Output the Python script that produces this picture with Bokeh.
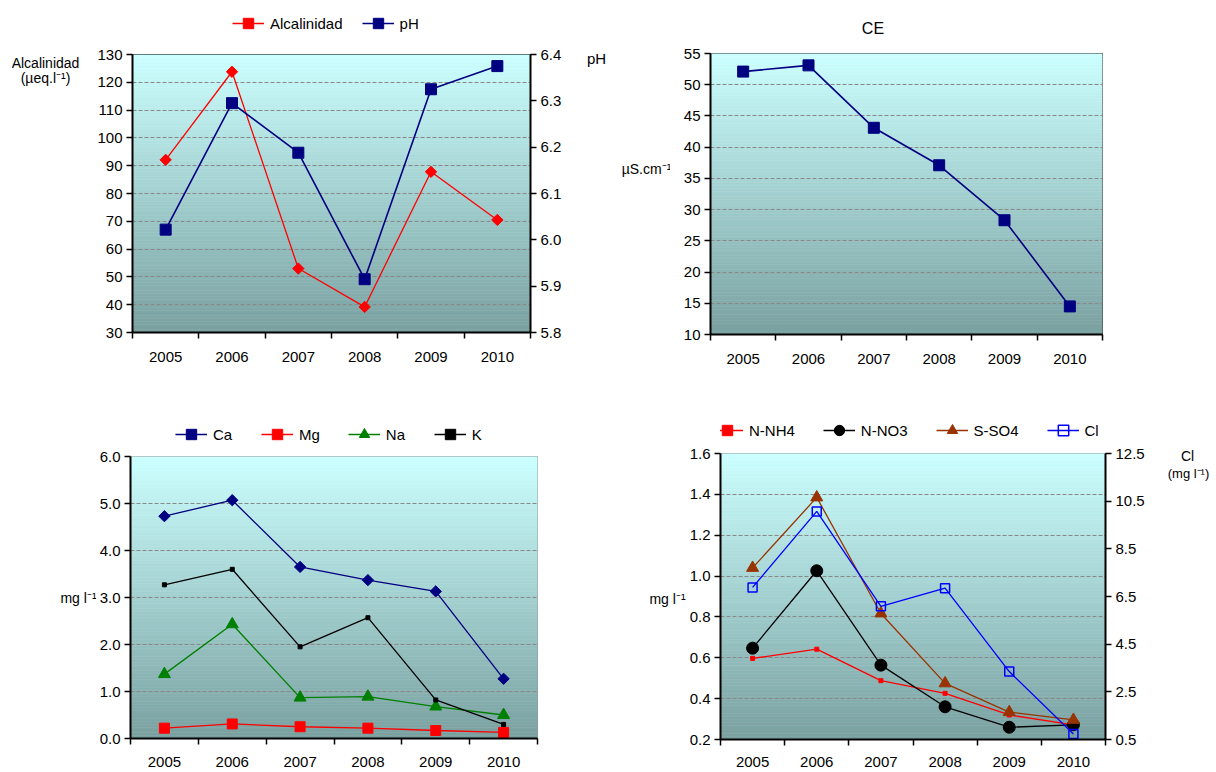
import numpy as np
from bokeh.plotting import figure
from bokeh.models import (Range1d, LinearAxis, FixedTicker, Legend, LegendItem, Label,
                          PrintfTickFormatter, Grid)
from bokeh.layouts import row, column
from bokeh.embed import file_html
from bokeh.resources import INLINE

# ---------------- data ----------------
years = ["2005", "2006", "2007", "2008", "2009", "2010"]

alcalinidad = [92.1, 123.8, 53.0, 39.2, 87.8, 70.5]
ph = [6.022, 6.295, 6.188, 5.915, 6.325, 6.375]

ce = [52.1, 53.1, 43.1, 37.1, 28.3, 14.5]

ca = [4.73, 5.07, 3.65, 3.37, 3.13, 1.27]
mg = [0.22, 0.31, 0.25, 0.22, 0.17, 0.13]
na = [1.37, 2.43, 0.87, 0.89, 0.68, 0.50]
k = [3.27, 3.60, 1.95, 2.57, 0.82, 0.30]

n_nh4 = [0.597, 0.642, 0.488, 0.426, 0.320, 0.272]
n_no3 = [0.647, 1.026, 0.564, 0.360, 0.260, 0.272]
s_so4 = [1.040, 1.385, 0.817, 0.475, 0.334, 0.296]
cl = [6.88, 10.07, 6.09, 6.85, 3.35, 0.73]

alk_ticks = [30, 40, 50, 60, 70, 80, 90, 100, 110, 120, 130]
ph_ticks = [5.8, 5.9, 6.0, 6.1, 6.2, 6.3, 6.4]
ce_ticks = [10, 15, 20, 25, 30, 35, 40, 45, 50, 55]
cation_ticks = [0, 1, 2, 3, 4, 5, 6]
an_ticks = [0.2, 0.4, 0.6, 0.8, 1.0, 1.2, 1.4, 1.6]
cl_ticks = [0.5, 2.5, 4.5, 6.5, 8.5, 10.5, 12.5]

# category slots: one unit per year, label in the middle, tick marks at the edges
NCAT = len(years)
xpos = [i + 0.5 for i in range(NCAT)]
xedges = [float(i) for i in range(NCAT + 1)]

# ---------------- style helpers ----------------
FONT = "Liberation Sans"
TICK_SIZE = "15px"
GRAD_TOP = (204, 255, 255)
GRAD_BOT = (122, 160, 160)
ROT = np.pi / 4


def base_fig(w, h, ml, mr, mt, mb, y0, y1, outline):
    p = figure(x_range=Range1d(0, NCAT), y_range=Range1d(y0, y1),
               width=w, height=h, min_border_left=ml, min_border_right=mr,
               min_border_top=mt, min_border_bottom=mb,
               x_axis_type=None, y_axis_type=None,
               output_backend="svg", toolbar_location=None)
    p.outline_line_color = outline
    p.outline_line_width = 1
    p.background_fill_color = "white"
    p.border_fill_color = "white"
    # gradient background (decoration)
    n = 100
    edges = np.linspace(y0, y1, n + 1)
    cols = []
    for i in range(n):
        t = (i + 0.5) / n
        c = tuple(int(round(GRAD_BOT[j] + (GRAD_TOP[j] - GRAD_BOT[j]) * t)) for j in range(3))
        cols.append("#%02x%02x%02x" % c)
    r = p.quad(left=0, right=NCAT, bottom=edges[:-1], top=edges[1:], fill_color=cols,
               line_color=cols, line_width=0.6)
    r.level = "image"
    return p


def strip(w, h):
    # text-only panel: the frame fills the whole canvas, units are pixels (y downwards)
    s = figure(width=w, height=h, x_range=Range1d(0, w), y_range=Range1d(h, 0),
               min_border=0, x_axis_type=None, y_axis_type=None,
               output_backend="svg", toolbar_location=None)
    s.outline_line_color = None
    s.background_fill_color = "white"
    s.border_fill_color = "white"
    return s


def put_text(s, x, y, text, size="14px"):
    s.add_layout(Label(x=x, y=y, text=text, text_font=FONT, text_font_size=size,
                       text_align="center", text_baseline="middle", text_color="black"))


def add_grid(p, ticks):
    g = Grid(dimension=1, ticker=FixedTicker(ticks=ticks), grid_line_color="#888888",
             grid_line_dash="4 2", grid_line_width=1)
    p.add_layout(g)


def style_axis(ax):
    ax.axis_line_color = "black"
    ax.axis_line_width = 2
    ax.major_tick_out = 6
    ax.major_tick_in = 0
    ax.major_tick_line_width = 1.5
    ax.minor_tick_out = 0
    ax.minor_tick_in = 0
    ax.major_label_text_font = FONT
    ax.major_label_text_font_size = TICK_SIZE
    ax.major_label_text_color = "black"
    ax.major_label_standoff = 4


def y_axis(p, ticks, fmt, side, range_name="default"):
    ax = LinearAxis(ticker=FixedTicker(ticks=ticks), formatter=PrintfTickFormatter(format=fmt),
                    y_range_name=range_name)
    style_axis(ax)
    p.add_layout(ax, side)


def bottom_axis(p, standoff):
    ax = LinearAxis(ticker=FixedTicker(ticks=xpos, minor_ticks=xedges),
                    major_label_overrides={x: y for x, y in zip(xpos, years)})
    style_axis(ax)
    ax.major_tick_out = 0
    ax.minor_tick_out = 6
    ax.minor_tick_line_width = 1.5
    ax.minor_tick_line_color = "black"
    ax.major_label_standoff = standoff
    p.add_layout(ax, "below")


def legend_strip(s, entries, vx, vy, spacing, padding=0):
    # entries: (label, line kwargs, marker kwargs); invisible proxies carry the legend glyphs
    items = []
    for label, lkw, mkw in entries:
        rl = s.line(x=[np.nan], y=[np.nan], **lkw)
        rm = s.scatter(x=[np.nan], y=[np.nan], **mkw)
        items.append(LegendItem(label=label, renderers=[rl, rm]))
    lg = Legend(items=items, orientation="horizontal", location=(vx, vy), padding=padding,
                margin=0, spacing=spacing, glyph_width=32, glyph_height=26, label_height=26,
                label_standoff=6, label_text_font=FONT, label_text_font_size="15px",
                label_text_color="black", border_line_color=None, background_fill_alpha=0)
    s.add_layout(lg)


# styles
S_ALK_L = dict(line_color="#FF0000", line_width=1.3)
S_ALK_M = dict(marker="square", angle=ROT, size=8, fill_color="#FF0000", line_color="#FF0000")
S_NAVY_L = dict(line_color="#000080", line_width=1.6)
S_NAVY_M = dict(marker="square", size=11, fill_color="#000080", line_color="#000080")
S_CA_L = dict(line_color="#000080", line_width=1.3)
S_CA_M = dict(marker="square", angle=ROT, size=8, fill_color="#000080", line_color="#000080")
S_MG_L = dict(line_color="#FF0000", line_width=1.3)
S_MG_M = dict(marker="square", size=10, fill_color="#FF0000", line_color="#FF0000")
S_NA_L = dict(line_color="#008000", line_width=1.3)
S_NA_M = dict(marker="triangle", size=12, fill_color="#008000", line_color="#008000")
S_K_L = dict(line_color="black", line_width=1.3)
S_K_M = dict(marker="square", size=4, fill_color="black", line_color="black")
S_NH_L = dict(line_color="#FF0000", line_width=1.3)
S_NH_M = dict(marker="square", size=4, fill_color="#FF0000", line_color="#FF0000")
S_NO_L = dict(line_color="black", line_width=1.3)
S_NO_M = dict(marker="circle", size=12, fill_color="black", line_color="black")
S_SO_L = dict(line_color="#993300", line_width=1.3)
S_SO_M = dict(marker="triangle", size=12, fill_color="#993300", line_color="#993300")
S_CL_L = dict(line_color="#0000FF", line_width=1.3)
S_CL_M = dict(marker="square", size=9, fill_color=None, line_color="#0000FF", line_width=1.5)

# ---------------- top-left: Alcalinidad / pH ----------------
tl = base_fig(492, 364, 42, 52, 10, 76, 30, 130, "black")
tl.extra_y_ranges = {"ph": Range1d(5.8, 6.4)}
add_grid(tl, alk_ticks)
y_axis(tl, alk_ticks, "%d", "left")
y_axis(tl, ph_ticks, "%.1f", "right", "ph")
bottom_axis(tl, 13)
tl.line(xpos, alcalinidad, **S_ALK_L)
tl.scatter(xpos, alcalinidad, **S_ALK_M)
tl.line(xpos, ph, y_range_name="ph", **S_NAVY_L)
tl.scatter(xpos, ph, y_range_name="ph", **S_NAVY_M)

tl_left = strip(90, 408)
put_text(tl_left, 45, 62, "Alcalinidad")
put_text(tl_left, 45, 77, "(µeq.l⁻¹)")
tl_top = strip(492, 44)
legend_strip(tl_top, [("Alcalinidad", S_ALK_L, S_ALK_M), ("pH", S_NAVY_L, S_NAVY_M)], 100, 8, 19)
tl_right = strip(26, 408)
put_text(tl_right, 14, 58, "pH", "15px")
quad_tl = row(tl_left, column(tl_top, tl), tl_right)

# ---------------- top-right: CE ----------------
tr = base_fig(538, 365, 40, 106, 10, 74, 10, 55, "#333333")
add_grid(tr, ce_ticks)
y_axis(tr, ce_ticks, "%d", "left")
bottom_axis(tr, 13)
tr.line(xpos, ce, **S_NAVY_L)
tr.scatter(xpos, ce, **S_NAVY_M)

tr_left = strip(62, 408)
put_text(tr_left, 38, 168, "µS.cm⁻¹")
tr_top = strip(538, 43)
put_text(tr_top, 223, 28, "CE", "16px")
quad_tr = row(tr_left, column(tr_top, tr))

# ---------------- bottom-left: cations ----------------
bl = base_fig(512, 326, 31, 71, 10, 34, 0, 6, "#999999")
add_grid(bl, cation_ticks)
y_axis(bl, cation_ticks, "%.1f", "left")
bottom_axis(bl, 12)
bl.line(xpos, ca, **S_CA_L)
bl.scatter(xpos, ca, **S_CA_M)
bl.line(xpos, mg, **S_MG_L)
bl.scatter(xpos, mg, **S_MG_M)
bl.line(xpos, na, **S_NA_L)
bl.scatter(xpos, na, **S_NA_M)
bl.line(xpos, k, **S_K_L)
bl.scatter(xpos, k, **S_K_M)

bl_left = strip(96, 364)
put_text(bl_left, 78, 189, "mg l⁻¹")
bl_top = strip(512, 38)
legend_strip(bl_top, [("Ca", S_CA_L, S_CA_M), ("Mg", S_MG_L, S_MG_M),
                      ("Na", S_NA_L, S_NA_M), ("K", S_K_L, S_K_M)], 45, -1, 28)
quad_bl = row(bl_left, column(bl_top, bl))

# ---------------- bottom-right: anions ----------------
br = base_fig(474, 329, 31, 55, 10, 33, 0.2, 1.6, "#999999")
br.extra_y_ranges = {"cl": Range1d(0.5, 12.5)}
add_grid(br, an_ticks)
y_axis(br, an_ticks, "%.1f", "left")
y_axis(br, cl_ticks, "%.1f", "right", "cl")
bottom_axis(br, 11)
br.line(xpos, n_nh4, **S_NH_L)
br.scatter(xpos, n_nh4, **S_NH_M)
br.line(xpos, n_no3, **S_NO_L)
br.scatter(xpos, n_no3, **S_NO_M)
br.line(xpos, s_so4, **S_SO_L)
br.scatter(xpos, s_so4, **S_SO_M)
br.line(xpos, cl, y_range_name="cl", **S_CL_L)
br.scatter(xpos, cl, y_range_name="cl", **S_CL_M)

br_left = strip(78, 364)
put_text(br_left, 59, 190, "mg l⁻¹")
br_top = strip(474, 35)
legend_strip(br_top, [("N-NH4", S_NH_L, S_NH_M), ("N-NO3", S_NO_L, S_NO_M),
                      ("S-SO4", S_SO_L, S_SO_M), ("Cl", S_CL_L, S_CL_M)], -9, 0, 28, padding=12)
br_right = strip(56, 364)
put_text(br_right, 27, 47, "Cl")
put_text(br_right, 28, 65, "(mg l⁻¹)", "13px")
quad_br = row(br_left, column(br_top, br), br_right)

page = column(row(quad_tl, quad_tr), row(quad_bl, quad_br))
open("out.html", "w").write(file_html(page, INLINE))
